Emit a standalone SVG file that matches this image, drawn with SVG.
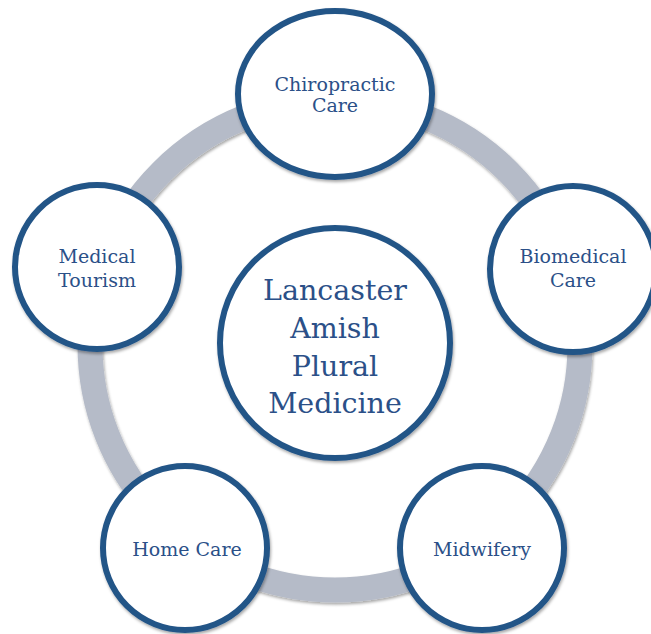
<svg xmlns="http://www.w3.org/2000/svg" width="651" height="634" viewBox="0 0 651 634">
  <defs>
    <filter id="shadow" x="-20%" y="-20%" width="140%" height="140%">
      <feDropShadow dx="1" dy="2" stdDeviation="1.6" flood-color="#000" flood-opacity="0.35"/>
    </filter>
    <style>
      .ring { fill: none; stroke: #b5bbc8; stroke-width: 25; }
      .node { fill: #ffffff; stroke: #245487; stroke-width: 6; }
      .label { font-family: "DejaVu Serif", "Liberation Serif", serif; fill: #2b5088; text-anchor: middle; }
      .small { font-size: 19px; }
      .big { font-size: 28.5px; }
    </style>
  </defs>
  <rect width="651" height="634" fill="#ffffff"/>

  <!-- cycle band linking the outer nodes -->
  <g id="connectors">
    <circle class="ring" cx="335" cy="345" r="245" filter="url(#shadow)"/>
  </g>

  <g id="center">
    <circle class="node" cx="335" cy="343" r="115" filter="url(#shadow)"/>
    <text class="label big" x="335" y="300">Lancaster</text>
    <text class="label big" x="335" y="338">Amish</text>
    <text class="label big" x="335" y="376">Plural</text>
    <text class="label big" x="335" y="413">Medicine</text>
  </g>

  <g id="chiropractic">
    <ellipse class="node" cx="335" cy="94" rx="97" ry="83" filter="url(#shadow)"/>
    <text class="label small" x="335" y="91">Chiropractic</text>
    <text class="label small" x="335" y="112">Care</text>
  </g>

  <g id="biomedical">
    <circle class="node" cx="573" cy="269" r="83" filter="url(#shadow)"/>
    <text class="label small" x="573" y="263">Biomedical</text>
    <text class="label small" x="573" y="287">Care</text>
  </g>

  <g id="midwifery">
    <circle class="node" cx="482" cy="548" r="82" filter="url(#shadow)"/>
    <text class="label small" x="482" y="556">Midwifery</text>
  </g>

  <g id="home-care">
    <circle class="node" cx="185" cy="548" r="82" filter="url(#shadow)"/>
    <text class="label small" x="187" y="556">Home Care</text>
  </g>

  <g id="medical-tourism">
    <circle class="node" cx="97" cy="267" r="82" filter="url(#shadow)"/>
    <text class="label small" x="97" y="263">Medical</text>
    <text class="label small" x="97" y="287">Tourism</text>
  </g>
</svg>
